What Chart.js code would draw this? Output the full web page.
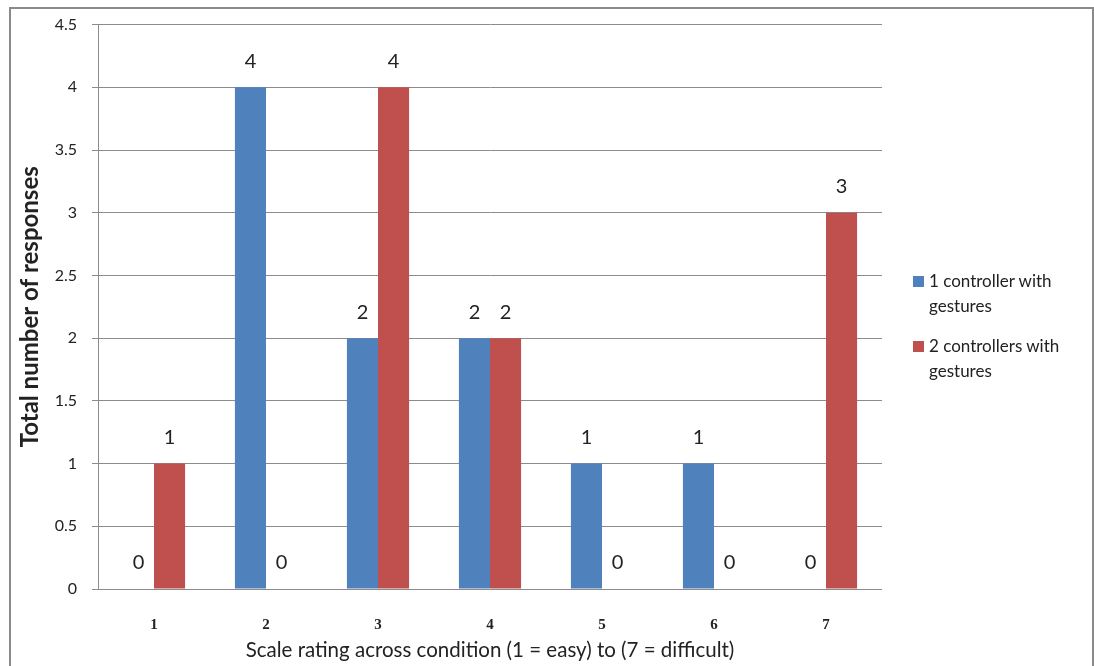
<!DOCTYPE html>
<html>
<head>
<meta charset="utf-8">
<script src="https://cdn.jsdelivr.net/npm/chart.js@4.4.1/dist/chart.umd.min.js"></script>
<style>
	body { margin: 0; background: #fff; }
	#wrap { position: relative; width: 1094px; height: 666px; overflow: hidden; }
	#frame { position: absolute; left: 9px; top: 7px; width: 1081px; height: 700px; border: 2px solid #8a8a8a; pointer-events: none; }
	#legend { position: absolute; left: 913px; top: 268px; width: 175px; font-family: Lato, "Open Sans", sans-serif; font-size: 17px; color: #222; }
	#legend .item { position: relative; padding-left: 16px; line-height: 25px; margin-bottom: 15px; width: 150px; }
	#legend .box { position: absolute; left: 0; top: 8px; width: 11px; height: 11px; }
</style>
</head>
<body>
<div id="wrap">
	<canvas id="barchart" width="1094" height="666"></canvas>
	<div id="frame"></div>
	<div id="legend"></div>
</div>
<script>
var categories = ['1', '2', '3', '4', '5', '6', '7'];
var oneController = [0, 4, 2, 2, 1, 1, 0];
var twoControllers = [1, 0, 4, 2, 0, 0, 3];
var seriesNames = ['1 controller with gestures', '2 controllers with gestures'];
var yTicks = [0, 0.5, 1, 1.5, 2, 2.5, 3, 3.5, 4, 4.5];

var valueLabels = {
	id: 'valueLabels',
	afterDatasetsDraw: function(chart) {
		var ctx = chart.ctx;
		ctx.save();
		ctx.font = '20px Lato, "Open Sans", sans-serif';
		ctx.fillStyle = '#222';
		ctx.textAlign = 'center';
		ctx.textBaseline = 'middle';
		chart.data.datasets.forEach(function(ds, i) {
			chart.getDatasetMeta(i).data.forEach(function(bar, j) {
				ctx.fillText(String(ds.data[j]), bar.x, bar.y - 26);
			});
		});
		ctx.restore();
	}
};

var barchart = {
	type: 'bar',
	data: {
		labels: categories,
		datasets: [
			{
				label: seriesNames[0],
				data: oneController,
				backgroundColor: '#4f81bd',
				borderWidth: 0
			},
			{
				label: seriesNames[1],
				data: twoControllers,
				backgroundColor: '#c0504d',
				borderWidth: 0
			}
		]
	},
	options: {
		responsive: false,
		animation: false,
		categoryPercentage: 0.555,
		barPercentage: 1,
		layout: {
			padding: { top: 24, right: 212, left: 0, bottom: 0 }
		},
		plugins: {
			legend: { display: false },
			tooltip: { enabled: false }
		},
		scales: {
			x: {
				grid: { display: false, drawTicks: false },
				border: { display: false },
				ticks: {
					padding: 27,
					color: '#222',
					font: { family: '"Liberation Serif", serif', size: 15, weight: 'bold' }
				},
				title: {
					display: true,
					text: 'Scale rating across condition (1 = easy) to (7 = difficult)',
					color: '#222',
					font: { family: 'Lato, "Open Sans", sans-serif', size: 20.5 },
					padding: { top: 0, bottom: 3 }
				},
				afterFit: function(scale) { scale.height = 77; }
			},
			y: {
				min: 0,
				max: 4.5,
				afterBuildTicks: function(scale) {
					scale.ticks = yTicks.map(function(v) { return { value: v }; });
				},
				grid: { color: '#8c8c8c', lineWidth: 1, tickLength: 6 },
				border: { display: true, color: '#8c8c8c', width: 1 },
				ticks: {
					padding: 15,
					color: '#222',
					font: { family: 'Lato, "Open Sans", sans-serif', size: 16 },
					callback: function(value) { return String(value); }
				},
				title: {
					display: true,
					text: 'Total number of responses',
					color: '#222',
					font: { family: 'Lato, "Open Sans", sans-serif', size: 24, weight: 'bold' },
					padding: { top: 16, bottom: 0 }
				},
				afterFit: function(scale) { scale.width = 98; }
			}
		}
	},
	plugins: [valueLabels]
};

window.onload = function() {
	var ctx = document.getElementById('barchart').getContext('2d');
	window.mybar = new Chart(ctx, barchart);

	var legend = document.getElementById('legend');
	mybar.data.datasets.forEach(function(ds) {
		var item = document.createElement('div');
		item.className = 'item';
		var box = document.createElement('span');
		box.className = 'box';
		box.style.background = ds.backgroundColor;
		item.appendChild(box);
		item.appendChild(document.createTextNode(ds.label));
		legend.appendChild(item);
	});
};
</script>
</body>
</html>
